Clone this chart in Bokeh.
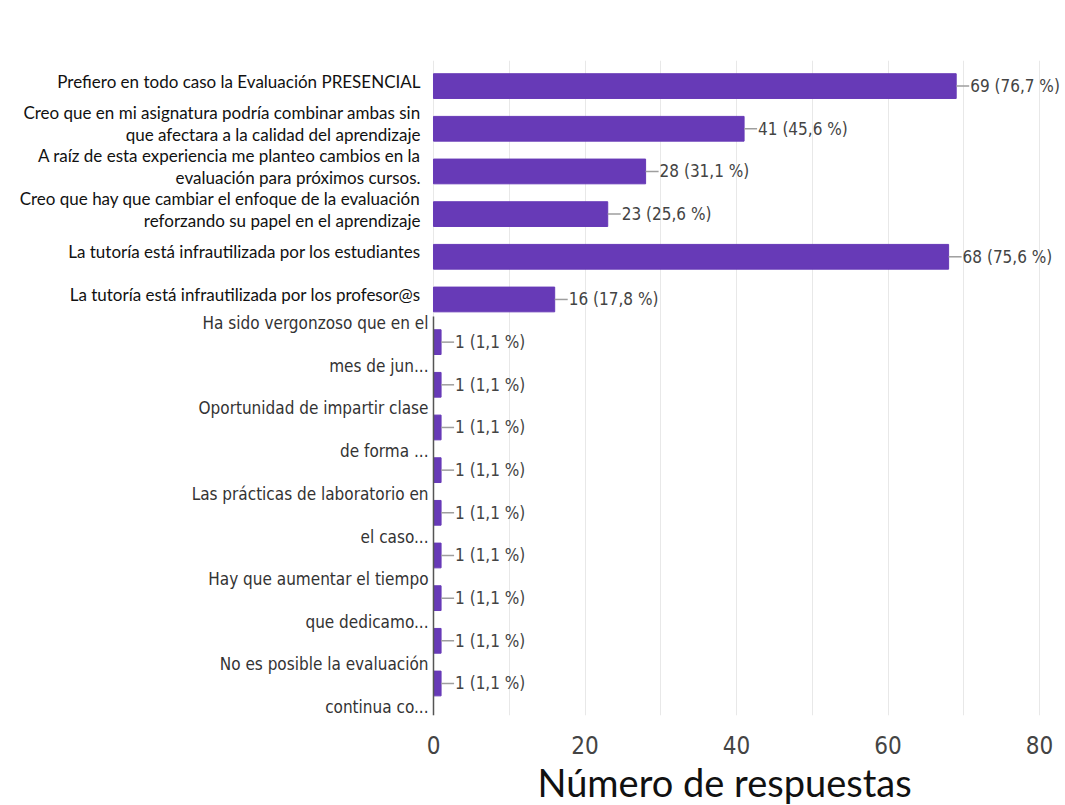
from bokeh.plotting import figure
from bokeh.models import ColumnDataSource, Range1d, FixedTicker, LabelSet, Title
from bokeh.core.properties import value
from bokeh.embed import file_html
from bokeh.resources import INLINE

# ---- data -------------------------------------------------------------
categories = [
    "Prefiero en todo caso la Evaluación PRESENCIAL",
    "Creo que en mi asignatura podría combinar ambas sin\nque afectara a la calidad del aprendizaje",
    "A raíz de esta experiencia me planteo cambios en la\nevaluación para próximos cursos.",
    "Creo que hay que cambiar el enfoque de la evaluación\nreforzando su papel en el aprendizaje",
    "La tutoría está infrautilizada por los estudiantes",
    "La tutoría está infrautilizada por los profesor@s",
    "Ha sido vergonzoso que en el\nmes de jun...",
    "",
    "Oportunidad de impartir clase\nde forma ...",
    "",
    "Las prácticas de laboratorio en\nel caso...",
    "",
    "Hay que aumentar el tiempo\nque dedicamo...",
    "",
    "No es posible la evaluación\ncontinua co...",
]
counts = [69, 41, 28, 23, 68, 16, 1, 1, 1, 1, 1, 1, 1, 1, 1]
percents = ["76,7 %", "45,6 %", "31,1 %", "25,6 %", "75,6 %", "17,8 %",
            "1,1 %", "1,1 %", "1,1 %", "1,1 %", "1,1 %", "1,1 %", "1,1 %", "1,1 %", "1,1 %"]
n_options = 6  # predefined options; the rest are "other" answers
x_ticks = [0, 20, 40, 60, 80]
x_grid = [0, 10, 20, 30, 40, 50, 60, 70, 80]
axis_title = "Número de respuestas"

# ---- styling ----------------------------------------------------------
BAR = "#673AB7"
NARROW_S = "DejaVu Sans Condensed"
NARROW = value(NARROW_S)
HUMAN = value("Lato")

ypos = list(range(len(categories)))
vlabels = [f"{c} ({p})" for c, p in zip(counts, percents)]
src = ColumnDataSource(dict(y=ypos, count=counts, vlabel=vlabels))


def line_source(rows, spacing, shift):
    """One entry per text line, right-aligned, stacked around the bar centre."""
    ys, txt, offs = [], [], []
    for i in rows:
        lines = categories[i].split("\n") if categories[i] else []
        n = len(lines)
        for k, t in enumerate(lines):
            ys.append(ypos[i])
            txt.append(t)
            offs.append(shift + (k - (n - 1) / 2) * spacing)
    return ColumnDataSource(dict(y=ys, t=txt, off=offs, zero=[0] * len(ys)))


src_main = line_source(range(n_options), 22, -5)
src_other = line_source(range(n_options, len(categories)), 43, 2.5)

# frame spans the whole width so the category labels (drawn at x=0 with a
# pixel offset) are not clipped; 0 sits at ~433 px, 1 unit ~ 7.575 px
p = figure(width=1065, height=805, output_backend="svg", toolbar_location=None,
           x_range=Range1d(-57.16, 83.43), y_range=Range1d(len(categories) - 0.25, -0.6),
           min_border_left=0, min_border_right=0, min_border_top=60,
           min_border_bottom=90)
p.outline_line_color = None
p.background_fill_color = "white"
p.border_fill_color = "white"

p.hbar(y="y", left=0, right="count", height=0.58, color=BAR, source=src)
p.ray(x="count", y="y", length=13, length_units="screen", angle=0,
      line_color="#9e9e9e", line_width=1.5, source=src)

p.text(x="count", y="y", text="vlabel", source=src, x_offset=14,
       text_align="left", text_baseline="middle",
       text_font=NARROW, text_font_size="17px", text_color="#444444")

p.text(x="zero", y="y", text="t", source=src_main, x_offset=-13, y_offset="off",
       text_align="right", text_baseline="middle",
       text_font=HUMAN, text_font_size="17px", text_color="#111111")
p.text(x="zero", y="y", text="t", source=src_other, x_offset=-5, y_offset="off",
       text_align="right", text_baseline="middle",
       text_font=NARROW, text_font_size="17px", text_color="#333333")

# left axis line for the lower block
p.segment(x0=0, x1=0, y0=n_options - 0.6, y1=len(categories) - 0.25,
          line_color="#555555", line_width=1.5)

p.yaxis.visible = False
p.ygrid.visible = False
p.xgrid.ticker = FixedTicker(ticks=x_grid)
p.xgrid.grid_line_color = "#e8e8e8"
p.xaxis.ticker = FixedTicker(ticks=x_ticks)
p.xaxis.axis_line_color = None
p.xaxis.major_tick_line_color = None
p.xaxis.minor_tick_line_color = None
p.xaxis.major_label_text_font = NARROW_S
p.xaxis.major_label_text_font_size = "24px"
p.xaxis.major_label_text_color = "#444444"
p.xaxis.major_label_standoff = 14

p.add_layout(Title(text=axis_title, align="left", offset=537,
                   text_font="Lato", text_font_size="38px", text_font_style="normal",
                   text_color="#111111", standoff=0), "below")

open("out.html", "w").write(file_html(p, INLINE))
